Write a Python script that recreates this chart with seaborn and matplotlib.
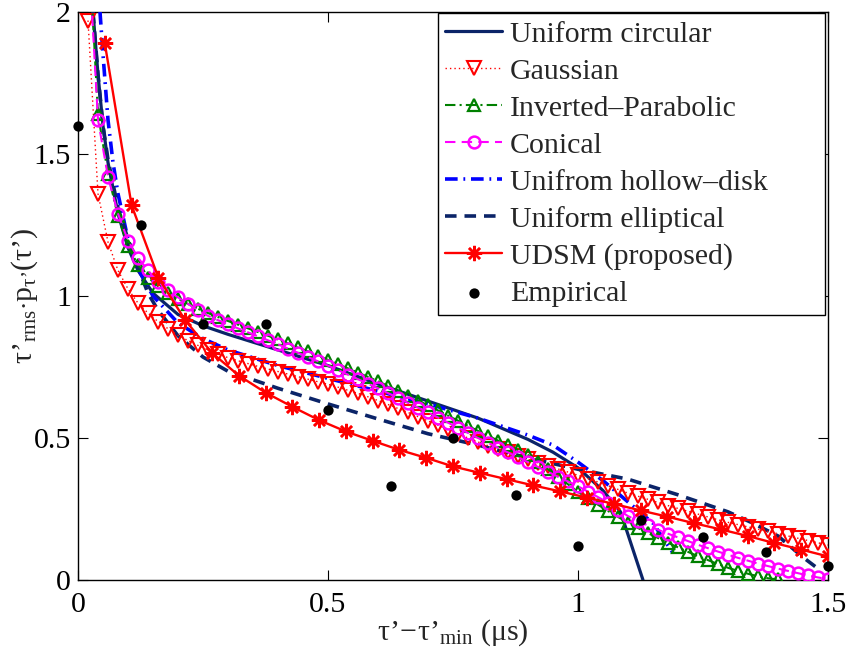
import numpy as np
import pandas as pd
import matplotlib
matplotlib.use("Agg")
import matplotlib.pyplot as plt
import seaborn as sns

# ---------------- data ----------------
# common marker grid for Gaussian / Inverted-Parabolic / Conical (us)
tau_grid = [0.02, 0.04, 0.06, 0.08, 0.10, 0.12, 0.14, 0.16, 0.18, 0.20,
            0.22, 0.24, 0.26, 0.28, 0.30, 0.32, 0.34, 0.36, 0.38, 0.40,
            0.42, 0.44, 0.46, 0.48, 0.50, 0.52, 0.54, 0.56, 0.58, 0.60,
            0.62, 0.64, 0.66, 0.68, 0.70, 0.72, 0.74, 0.76, 0.78, 0.80,
            0.82, 0.84, 0.86, 0.88, 0.90, 0.92, 0.94, 0.96, 0.98, 1.00,
            1.02, 1.04, 1.06, 1.08, 1.10, 1.12, 1.14, 1.16, 1.18, 1.20,
            1.22, 1.24, 1.26, 1.28, 1.30, 1.32, 1.34, 1.36, 1.38, 1.40,
            1.42, 1.44, 1.46, 1.48, 1.50]

gaussian = [1.97, 1.36, 1.19, 1.09, 1.025, 0.975, 0.94, 0.91, 0.885, 0.862,
            0.843, 0.826, 0.81, 0.796, 0.783, 0.772, 0.762, 0.752, 0.743, 0.734,
            0.725, 0.716, 0.707, 0.698, 0.689, 0.679, 0.668, 0.657, 0.645, 0.632,
            0.618, 0.604, 0.59, 0.575, 0.56, 0.545, 0.53, 0.515, 0.50, 0.486,
            0.473, 0.461, 0.449, 0.437, 0.425, 0.413, 0.402, 0.391, 0.38, 0.369,
            0.357, 0.345, 0.332, 0.319, 0.306, 0.295, 0.284, 0.273, 0.262, 0.252,
            0.242, 0.232, 0.222, 0.212, 0.203, 0.195, 0.187, 0.179, 0.171, 0.163,
            0.155, 0.147, 0.139, 0.131, 0.123]

inv_parabolic = [2.30, 1.64, 1.43, 1.28, 1.175, 1.11, 1.065, 1.035, 1.01, 0.99,
                 0.972, 0.955, 0.94, 0.926, 0.912, 0.899, 0.886, 0.873, 0.86, 0.847,
                 0.833, 0.819, 0.805, 0.79, 0.775, 0.76, 0.745, 0.73, 0.715, 0.70,
                 0.683, 0.666, 0.649, 0.632, 0.615, 0.597, 0.579, 0.561, 0.543, 0.525,
                 0.508, 0.491, 0.474, 0.457, 0.44, 0.415, 0.39, 0.363, 0.337, 0.31,
                 0.288, 0.265, 0.243, 0.222, 0.202, 0.183, 0.165, 0.148, 0.131, 0.115,
                 0.099, 0.084, 0.07, 0.056, 0.043, 0.032, 0.022, 0.013, 0.006, 0.002]

conical = [2.25, 1.62, 1.42, 1.29, 1.195, 1.135, 1.09, 1.05, 1.02, 0.995,
           0.972, 0.95, 0.93, 0.915, 0.90, 0.886, 0.872, 0.858, 0.844, 0.83,
           0.815, 0.80, 0.785, 0.77, 0.755, 0.739, 0.723, 0.707, 0.691, 0.675,
           0.658, 0.641, 0.624, 0.607, 0.59, 0.572, 0.554, 0.536, 0.518, 0.50,
           0.483, 0.466, 0.449, 0.432, 0.415, 0.398, 0.381, 0.364, 0.347, 0.33,
           0.311, 0.292, 0.272, 0.248, 0.225, 0.208, 0.192, 0.177, 0.163, 0.15,
           0.137, 0.124, 0.112, 0.10, 0.089, 0.078, 0.068, 0.058, 0.049, 0.04,
           0.032, 0.024, 0.016, 0.009, 0.003]

circ_tau = [0.03, 0.04, 0.05, 0.06, 0.08, 0.10, 0.12, 0.15, 0.20, 0.25, 0.30,
            0.40, 0.50, 0.60, 0.70, 0.80, 0.90, 0.95, 1.00, 1.05, 1.085, 1.13]
circular = [2.0, 1.78, 1.60, 1.47, 1.29, 1.17, 1.09, 1.01, 0.935, 0.895, 0.865,
            0.81, 0.755, 0.69, 0.63, 0.57, 0.495, 0.45, 0.395, 0.315, 0.24, 0.0]

hollow_tau = [0.044, 0.05, 0.06, 0.07, 0.08, 0.10, 0.125, 0.15, 0.20, 0.25, 0.30,
              0.40, 0.50, 0.60, 0.70, 0.80, 0.90, 0.95, 1.00, 1.05, 1.10, 1.15, 1.19]
hollow = [2.0, 1.85, 1.62, 1.47, 1.36, 1.20, 1.08, 1.0, 0.905, 0.85, 0.81,
          0.755, 0.71, 0.665, 0.62, 0.57, 0.51, 0.475, 0.415, 0.35, 0.275, 0.2, 0.095]

ellip_tau = [0.03, 0.04, 0.05, 0.06, 0.08, 0.10, 0.12, 0.14, 0.16, 0.20, 0.25, 0.30,
             0.40, 0.50, 0.60, 0.70, 0.80, 0.90, 1.00, 1.10, 1.20, 1.25, 1.30, 1.35,
             1.40, 1.45, 1.48]
elliptical = [2.0, 1.78, 1.60, 1.48, 1.31, 1.20, 1.10, 1.01, 0.95, 0.86, 0.785, 0.735,
              0.675, 0.62, 0.567, 0.515, 0.475, 0.43, 0.39, 0.355, 0.30, 0.27, 0.24, 0.20,
              0.155, 0.08, 0.04]

udsm_tau = [0.0536, 0.1071, 0.1607, 0.2143, 0.2679, 0.3214, 0.375, 0.4286, 0.4821,
            0.5357, 0.5893, 0.6429, 0.6964, 0.75, 0.8036, 0.8571, 0.9107, 0.9643,
            1.0179, 1.0714, 1.125, 1.1786, 1.2321, 1.2857, 1.3393, 1.3929, 1.4464, 1.5]
udsm = [1.89, 1.32, 1.065, 0.915, 0.80, 0.72, 0.66, 0.61, 0.563,
        0.523, 0.49, 0.458, 0.43, 0.40, 0.377, 0.355, 0.333, 0.312,
        0.29, 0.268, 0.245, 0.223, 0.20, 0.178, 0.155, 0.13, 0.107, 0.083]

emp_tau = [0.0, 0.125, 0.25, 0.375, 0.5, 0.625, 0.75, 0.875, 1.0, 1.125, 1.25, 1.375, 1.5]
empirical = [1.60, 1.25, 0.90, 0.90, 0.60, 0.33, 0.50, 0.30, 0.12, 0.21, 0.15, 0.10, 0.05]

x_ticks = [0, 0.5, 1, 1.5]
x_ticklabels = ["0", "0.5", "1", "1.5"]
y_ticks = [0, 0.5, 1, 1.5, 2]
y_ticklabels = ["0", "0.5", "1", "1.5", "2"]

# ---------------- style ----------------
sns.set_theme(style="white")
plt.rcParams["font.family"] = ["Liberation Serif", "DejaVu Serif"]
plt.rcParams["mathtext.fontset"] = "custom"
plt.rcParams["mathtext.rm"] = "Liberation Serif"
plt.rcParams["mathtext.it"] = "Liberation Serif"
plt.rcParams["mathtext.bf"] = "Liberation Serif:bold"
FS = 21.5

NAVY = "#0b2468"

fig = plt.figure(figsize=(8.46, 6.55), dpi=100)
ax = fig.add_axes([78 / 846, 75 / 655, 750 / 846, 568 / 655])

def df(x, y):
    return pd.DataFrame({"x": x, "y": y})

sns.lineplot(data=df(circ_tau, circular), x="x", y="y", ax=ax, color=NAVY,
             linewidth=2.3, linestyle="-", label="Uniform circular", zorder=3)
sns.lineplot(data=df(tau_grid, gaussian), x="x", y="y", ax=ax, color="red",
             linewidth=1.0, linestyle=(0, (1, 2.2)), marker="v", markersize=9.5,
             markerfacecolor="none", markeredgecolor="red", markeredgewidth=1.5,
             label="Gaussian", zorder=4)
sns.lineplot(data=df(tau_grid[:len(inv_parabolic)], inv_parabolic), x="x", y="y", ax=ax,
             color="#008000", linewidth=1.5, linestyle=(0, (5, 2, 1, 2)), marker="^",
             markersize=9, markerfacecolor="none", markeredgecolor="#008000",
             markeredgewidth=1.6, label="Inverted\u2013Parabolic", zorder=4)
sns.lineplot(data=df(tau_grid, conical), x="x", y="y", ax=ax, color="#ff00ff",
             linewidth=1.5, linestyle=(0, (5, 3)), marker="o", markersize=8.5,
             markerfacecolor="none", markeredgecolor="#ff00ff", markeredgewidth=1.8,
             label="Conical", zorder=5)
sns.lineplot(data=df(hollow_tau, hollow), x="x", y="y", ax=ax, color="#0000ff",
             linewidth=2.6, linestyle=(0, (3.5, 1.6, 0.5, 1.6)),
             label="Unifrom hollow\u2013disk", zorder=3)
sns.lineplot(data=df(ellip_tau, elliptical), x="x", y="y", ax=ax, color=NAVY,
             linewidth=2.6, linestyle=(0, (3.2, 2.2)),
             label="Uniform elliptical", zorder=3)
sns.lineplot(data=df(udsm_tau, udsm), x="x", y="y", ax=ax, color="red",
             linewidth=1.7, linestyle="-", marker=(8, 2, 0), markersize=11,
             markerfacecolor="red", markeredgecolor="red", markeredgewidth=1.8,
             label="UDSM (proposed)", zorder=6)
sns.scatterplot(data=df(emp_tau, empirical), x="x", y="y", ax=ax, color="black",
                s=55, edgecolor="black", linewidth=0, label="Empirical",
                zorder=7, clip_on=False)

ax.set_xlim(0, 1.5)
ax.set_ylim(0, 2)
ax.set_xticks(x_ticks)
ax.set_xticklabels(x_ticklabels)
ax.set_yticks(y_ticks)
ax.set_yticklabels(y_ticklabels)
ax.tick_params(direction="in", length=7, width=0.8, colors="black",
               labelsize=FS, top=True, right=True, bottom=True, left=True)
ax.tick_params(axis="x", pad=9)
ax.tick_params(axis="y", pad=5)
for s in ax.spines.values():
    s.set_visible(True)
    s.set_color("black")
    s.set_linewidth(1.0)

ax.set_xlabel("$\\tau\u2019\\!-\\!\\tau\u2019_{\\rm min}$ (\u03bcs)", fontsize=FS)
ax.set_ylabel("$\\tau\u2019_{\\rm rms}{\\cdot}{\\rm p}_{\\tau\u2019}(\\tau\u2019)$", fontsize=FS)
ax.xaxis.set_label_coords(0.5, -0.065)
ax.yaxis.set_label_coords(-0.05, 0.5)

leg = ax.legend(loc="upper left", bbox_to_anchor=(0.48, 0.0, 0.516, 0.998),
                mode="expand", borderaxespad=0, fontsize=FS, frameon=True,
                fancybox=False, shadow=False, framealpha=1, edgecolor="black",
                handlelength=1.9, handletextpad=0.25, labelspacing=0.34,
                borderpad=0.25, numpoints=1, scatterpoints=1)
leg.get_frame().set_linewidth(1.0)

fig.savefig("out.png", dpi=100)
